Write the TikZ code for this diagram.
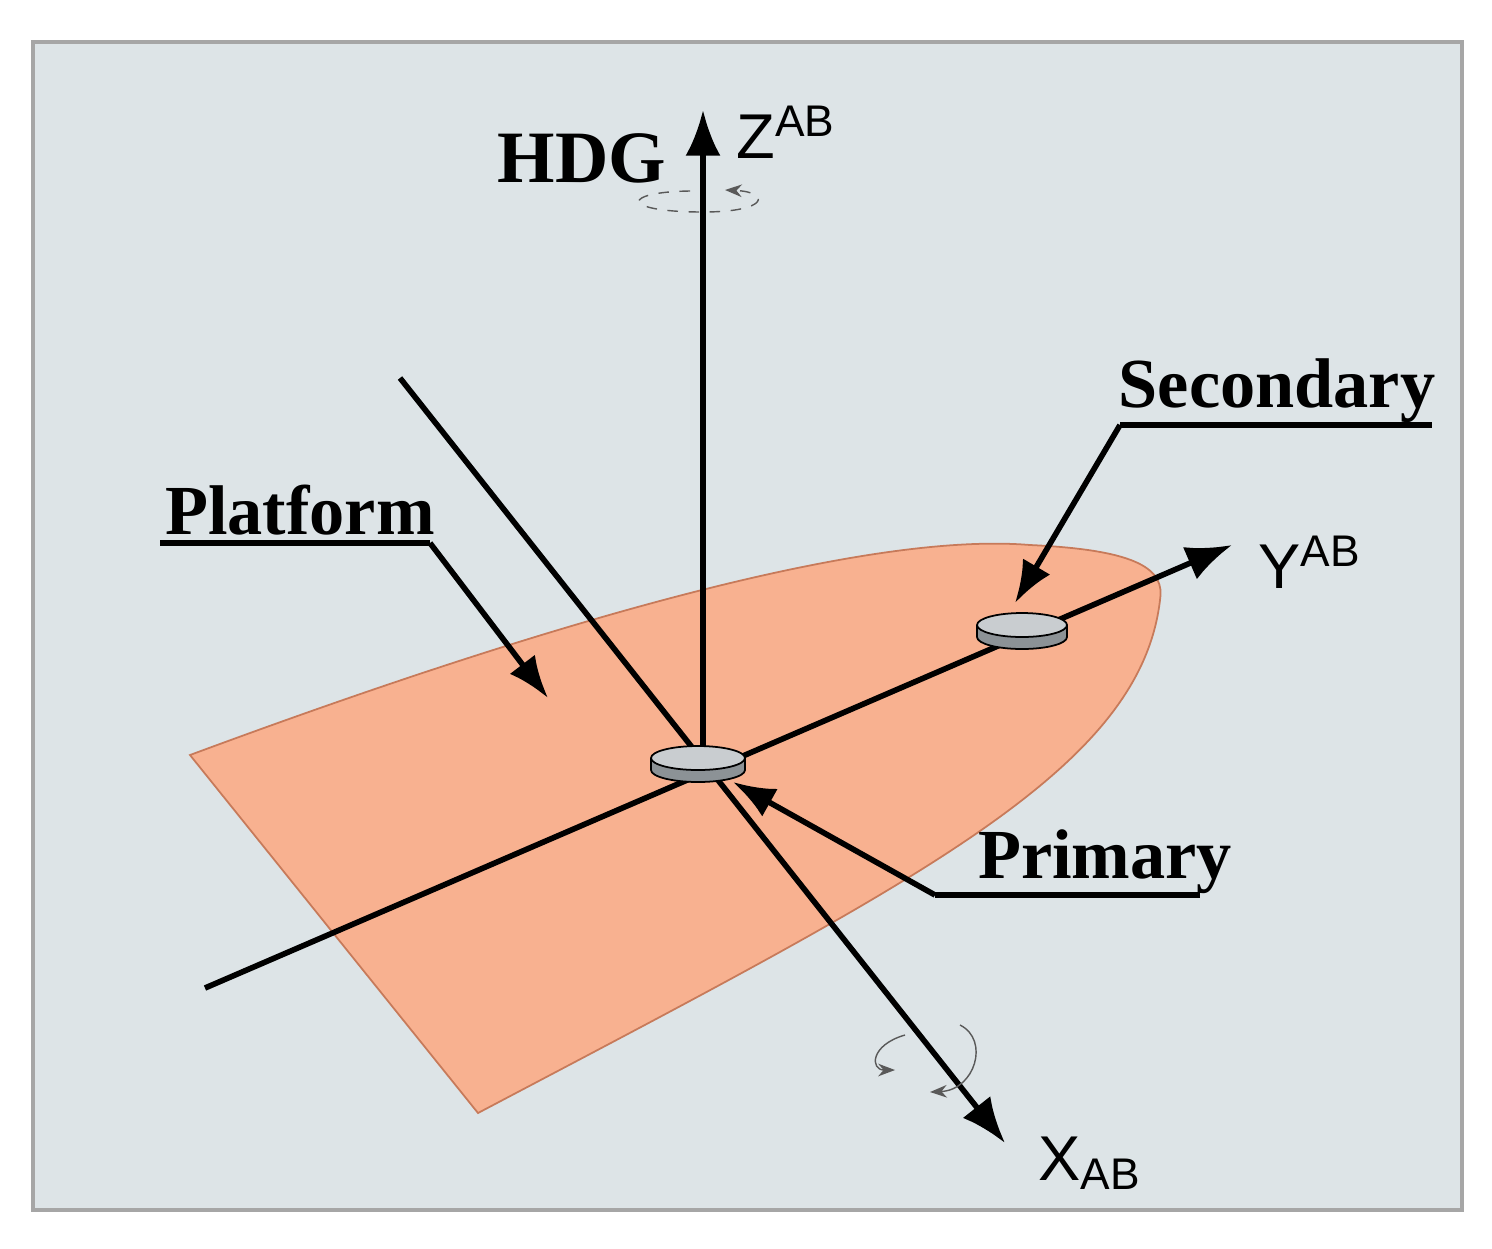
\documentclass[tikz,border=0pt]{standalone}
\usepackage{fontspec}
\setmainfont{Liberation Serif}
\setsansfont{Liberation Sans}
\usetikzlibrary{arrows.meta}
\definecolor{bg}{HTML}{DDE4E7}
\definecolor{plat}{HTML}{F8B190}
\definecolor{platedge}{HTML}{C77A5A}
\definecolor{disktop}{HTML}{C9CDD0}
\definecolor{diskside}{HTML}{8C9296}
\tikzset{
  axis/.style={line width=1.6pt,-{Latex[length=13pt,width=10pt]}},
  lbl/.style={font=\fontsize{20}{20}\selectfont\bfseries},
  axlbl/.style={font=\sffamily\fontsize{18}{18}\selectfont},
  lead/.style={line width=1.6pt,-{Latex[length=12pt,width=9pt]}},
  rot/.style={line width=0.4pt,gray!70!black,->,>=Stealth},
}
\begin{document}
\begin{tikzpicture}[x=0.01cm,y=-0.01cm]
\useasboundingbox (0,0) rectangle (1492,1248);
\fill[white] (0,0) rectangle (1492,1248);
\draw[fill=bg,draw=gray!70,line width=1pt] (33,42) rectangle (1462,1210);
% platform
\draw[fill=plat,draw=platedge,line width=0.5pt] (190,755) .. controls (500,640) and (850,530) .. (1030,545)
  .. controls (1140,550) and (1165,570) .. (1160,600)
  .. controls (1140,770) and (920,880) .. (478,1113) -- cycle;
% axes
\coordinate (O) at (703,770);
\coordinate (Xs) at (400,378);
\coordinate (Xe) at (1005,1143);
\coordinate (Ys) at (205,988);
\coordinate (Ye) at (1232,545);
\coordinate (Ze) at (703,110);
\draw[axis] (O) -- (Ze);
\draw[axis] (Ys) -- (Ye);
\draw[axis] (Xs) -- (Xe);
\node[axlbl,anchor=west] (zl) at (724,132) {Z\textsuperscript{AB}};
\node[axlbl,anchor=west] (yl) at (1246,562) {Y\textsuperscript{AB}};
\node[axlbl,anchor=west] (xl) at (1026,1163) {X\textsubscript{AB}};
\node[font=\fontsize{21}{21}\selectfont\bfseries] (hdg) at (582,158) {HDG};
% rotations
\draw[rot,dashed] (690,191) .. controls (620,192) and (620,212) .. (703,212) .. controls (770,212) and (770,192) .. (725,190);
\draw[rot] (960,1025) .. controls (990,1040) and (975,1090) .. (930,1092);
\draw[rot] (905,1035) .. controls (870,1045) and (870,1070) .. (895,1070);
% disks
\foreach \n/\x/\y/\r in {prim/698/758/47, sec/1022/625/45}{
  \fill[diskside] (\x-\r,\y) -- (\x-\r,\y+12) arc[start angle=180,end angle=360,x radius=\r,y radius=-12] -- (\x+\r,\y) -- cycle;
  \draw[line width=0.5pt] (\x-\r,\y) -- (\x-\r,\y+12) arc[start angle=180,end angle=360,x radius=\r,y radius=-12] -- (\x+\r,\y);
  \draw[fill=disktop,line width=0.5pt] (\x,\y) ellipse[x radius=\r,y radius=12];
  \coordinate (\n) at (\x,\y);
}
% labels
\node[lbl] (pf) at (300,510) {Platform};
\draw[line width=1.6pt] (160,543) -- (430,543);
\draw[lead] (430,543) -- (548,698);
\node[lbl] (sc) at (1277,391) {Secondary};
\draw[line width=1.6pt] (1120,425) -- (1432,425);
\draw[lead] (1120,425) -- (1015,603);
\node[lbl] (pr) at (1105,862) {Primary};
\draw[line width=1.6pt] (935,895) -- (1200,895);
\draw[lead] (935,895) -- (733,782);
\end{tikzpicture}
\end{document}
